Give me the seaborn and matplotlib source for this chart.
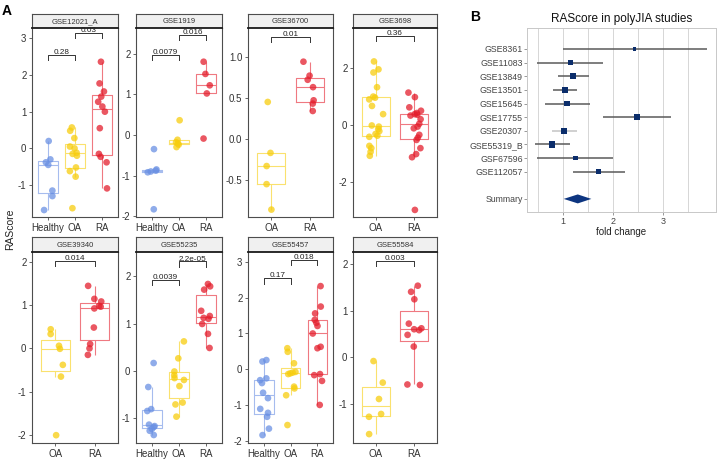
import numpy as np
import pandas as pd
import matplotlib
matplotlib.use("Agg")
import matplotlib.pyplot as plt
import seaborn as sns

# ---- panel A: RAScore per group, one array per study/group ----
gse12021_healthy = [0.2, -0.3, -0.38, -0.45, -1.15, -1.3, -1.68]
gse12021_oa = [0.57, 0.48, 0.28, 0.05, 0.0, -0.12, -0.15, -0.2, -0.52, -0.62, -0.77, -1.63]
gse12021_ra = [2.36, 1.77, 1.55, 1.41, 1.27, 1.14, 1.0, 0.55, -0.15, -0.23, -0.38, -1.09]

gse1919_healthy = [-0.35, -0.85, -0.88, -0.9, -0.92, -1.83]
gse1919_oa = [0.36, -0.12, -0.18, -0.21, -0.24, -0.3]
gse1919_ra = [1.8, 1.5, 1.22, 1.02, -0.09]

gse36700_oa = [0.45, -0.17, -0.33, -0.55, -0.86]
gse36700_ra = [0.94, 0.77, 0.72, 0.63, 0.47, 0.43, 0.34]

gse3698_oa = [2.24, 1.96, 1.85, 1.33, 1.0, 0.96, 0.9, 0.67, 0.38, -0.02,
              -0.06, -0.15, -0.22, -0.32, -0.38, -0.42, -0.74, -0.82, -0.95, -1.09]
gse3698_ra = [1.14, 0.98, 0.62, 0.5, 0.42, 0.38, 0.36, 0.33, 0.2, 0.04,
              -0.06, -0.12, -0.35, -0.45, -0.53, -0.82, -1.03, -1.14, -3.0]

gse39340_oa = [0.44, 0.33, 0.06, -0.01, -0.38, -0.65, -2.0]
gse39340_ra = [1.44, 1.14, 1.08, 0.98, 0.92, 0.48, 0.1, 0.0, -0.15, 0.96]

gse55235_healthy = [0.16, -0.35, -0.82, -0.86, -1.15, -1.18, -1.2, -1.24, -1.28, -1.37]
gse55235_oa = [0.62, 0.26, -0.02, -0.1, -0.16, -0.2, -0.33, -0.68, -0.72, -0.98]
gse55235_ra = [1.84, 1.79, 1.72, 1.27, 1.16, 1.12, 1.1, 0.99, 0.78, 0.48]

gse55457_healthy = [0.26, 0.22, -0.25, -0.3, -0.38, -0.65, -0.8, -1.1, -1.21, -1.32, -1.65, -1.83]
gse55457_oa = [0.59, 0.49, 0.17, -0.07, -0.09, -0.11, -0.13, -0.48, -0.53, -0.72, -1.55]
gse55457_ra = [2.32, 1.75, 1.56, 1.38, 1.3, 1.21, 1.0, 0.63, 0.59, -0.13, -0.16, -0.32, -0.99]

gse55584_oa = [-0.08, -0.54, -0.89, -1.21, -1.27, -1.64]
gse55584_ra = [1.53, 1.4, 1.24, 0.72, 0.62, 0.6, 0.58, 0.48, 0.23, -0.58, -0.59]

# p-value brackets: (group a, group b, height, label)
gse12021_p = [("Healthy", "OA", 2.55, "0.28"), ("OA", "RA", 3.14, "0.03")]
gse1919_p = [("Healthy", "OA", 1.97, "0.0079"), ("OA", "RA", 2.46, "0.016")]
gse36700_p = [("OA", "RA", 1.24, "0.01")]
gse3698_p = [("OA", "RA", 3.14, "0.36")]
gse39340_p = [("OA", "RA", 2.02, "0.014")]
gse55235_p = [("Healthy", "OA", 1.93, "0.0039"), ("OA", "RA", 2.32, "2.2e-05")]
gse55457_p = [("Healthy", "OA", 2.54, "0.17"), ("OA", "RA", 3.05, "0.018")]
gse55584_p = [("OA", "RA", 2.06, "0.003")]

# ---- panel B: forest plot ----
forest_studies = ["GSE8361", "GSE11083", "GSE13849", "GSE13501", "GSE15645",
                  "GSE17755", "GSE20307", "GSE55319_B", "GSF67596", "GSE112057"]
forest_est = [2.43, 1.15, 1.2, 1.05, 1.09, 2.48, 1.03, 0.79, 1.25, 1.71]
forest_low = [1.0, 0.49, 0.9, 0.8, 0.64, 1.8, 0.78, 0.44, 0.49, 1.2]
forest_high = [3.87, 1.8, 1.52, 1.29, 1.55, 3.15, 1.28, 1.14, 2.0, 2.24]
forest_weight = [2.0, 4.0, 5.5, 5.0, 5.0, 5.0, 5.0, 6.0, 4.0, 4.5]
summary_low, summary_est, summary_high = 1.02, 1.3, 1.57

plt.rcParams["font.family"] = ["Liberation Sans", "DejaVu Sans"]
plt.rcParams["axes.unicode_minus"] = False
np.random.seed(3)

W, H = 718, 459
fig = plt.figure(figsize=(W / 100, H / 100), dpi=100)

colors = {"Healthy": "#6a90e3", "OA": "#f7cd0e", "RA": "#e41f2d"}


def lighten(c, amt=0.4):
    rgb = np.array(matplotlib.colors.to_rgb(c))
    return tuple(rgb + (1 - rgb) * amt)


box_colors = {g: lighten(c) for g, c in colors.items()}
dark = "#4d4d4d"


def px_axes(x0, y0, x1, y1):
    return fig.add_axes([x0 / W, (H - y1) / H, (x1 - x0) / W, (y1 - y0) / H])


def draw_panel(xr, yr, sy, title, data, brackets, ylim, yticks, fmt="%g"):
    # strip first, so bracket labels of the panel can sit on top of it
    sax = px_axes(xr[0], sy, xr[1], yr[0])
    sax.set_facecolor("#f0f0f0")
    sax.set_xticks([])
    sax.set_yticks([])
    for s in sax.spines.values():
        s.set_color(dark)
        s.set_linewidth(0.8)
    sax.text(0.5, 0.45, title, ha="center", va="center", fontsize=5.5, color="#333333",
             transform=sax.transAxes)

    ax = px_axes(xr[0], yr[0], xr[1], yr[1])
    ax.set_zorder(2)
    groups = list(data.keys())
    df = pd.DataFrame({
        "group": np.repeat(groups, [len(v) for v in data.values()]),
        "score": np.concatenate(list(data.values())),
    })
    sns.boxplot(data=df, x="group", y="score", hue="group", order=groups,
                palette={g: box_colors[g] for g in groups}, fill=False,
                showfliers=False, showcaps=False, width=0.72, linewidth=0.8,
                legend=False, ax=ax)
    sns.stripplot(data=df, x="group", y="score", hue="group", order=groups,
                  palette={g: colors[g] for g in groups}, jitter=0.2, size=4.8,
                  alpha=0.75, linewidth=0, legend=False, ax=ax)
    tick = 0.028 * (ylim[1] - ylim[0])
    for a, b, y, label in brackets:
        xa, xb = groups.index(a), groups.index(b)
        ax.plot([xa, xa, xb, xb], [y - tick, y, y, y - tick], color="#333333", lw=0.7)
        ax.text((xa + xb) / 2, y + tick * 0.15, label, ha="center", va="baseline",
                fontsize=5.9, color="#222222")
    ax.set_xlim(-0.6, len(groups) - 0.4)
    ax.set_ylim(*ylim)
    ax.set_yticks(yticks)
    ax.set_yticklabels([fmt % t for t in yticks])
    ax.set_xlabel("")
    ax.set_ylabel("")
    ax.tick_params(labelsize=7, colors=dark, labelcolor="#333333", length=2.5, width=0.6, pad=1.5)
    for s in ax.spines.values():
        s.set_color(dark)
        s.set_linewidth(0.8)
    ax.spines["top"].set_color("#1a1a1a")
    ax.spines["top"].set_linewidth(1.3)
    return ax


cols = [(32, 118), (136, 222), (248, 333), (353, 437)]
top, bot = (28, 217), (252, 443)

draw_panel(cols[0], top, 14, "GSE12021_A",
           {"Healthy": gse12021_healthy, "OA": gse12021_oa, "RA": gse12021_ra},
           gse12021_p, (-1.87, 3.28), [-1, 0, 1, 2, 3])
draw_panel(cols[1], top, 14, "GSE1919",
           {"Healthy": gse1919_healthy, "OA": gse1919_oa, "RA": gse1919_ra},
           gse1919_p, (-2.02, 2.63), [-2, -1, 0, 1, 2])
draw_panel(cols[2], top, 14, "GSE36700",
           {"OA": gse36700_oa, "RA": gse36700_ra},
           gse36700_p, (-0.95, 1.35), [-0.5, 0.0, 0.5, 1.0], fmt="%.1f")
draw_panel(cols[3], top, 14, "GSE3698",
           {"OA": gse3698_oa, "RA": gse3698_ra},
           gse3698_p, (-3.25, 3.42), [-2, 0, 2])
draw_panel(cols[0], bot, 237, "GSE39340",
           {"OA": gse39340_oa, "RA": gse39340_ra},
           gse39340_p, (-2.18, 2.22), [-2, -1, 0, 1, 2])
draw_panel(cols[1], bot, 237, "GSE55235",
           {"Healthy": gse55235_healthy, "OA": gse55235_oa, "RA": gse55235_ra},
           gse55235_p, (-1.54, 2.52), [-1, 0, 1, 2])
draw_panel(cols[2], bot, 237, "GSE55457",
           {"Healthy": gse55457_healthy, "OA": gse55457_oa, "RA": gse55457_ra},
           gse55457_p, (-2.05, 3.27), [-2, -1, 0, 1, 2, 3])
draw_panel(cols[3], bot, 237, "GSE55584",
           {"OA": gse55584_oa, "RA": gse55584_ra},
           gse55584_p, (-1.83, 2.25), [-1, 0, 1, 2])

fig.text(10 / W, 0.5, "RAScore", rotation=90, ha="center", va="center", fontsize=7.5, color="#222222")
fig.text(2 / W, 1 - 11 / H, "A", ha="left", va="center", fontsize=10, fontweight="bold")
fig.text(470 / W, 1 - 17 / H, "B", ha="left", va="center", fontsize=10, fontweight="bold")

# ---- forest plot ----
fax = px_axes(527, 28, 716, 212)
pos = np.arange(1, len(forest_studies) + 1)
sum_pos = len(forest_studies) + 2
ci_colors = ["#5a5a5a"] * len(forest_studies)
ci_colors[forest_studies.index("GSE20307")] = "#c4c4c4"
fax.hlines(pos, forest_low, forest_high, colors=ci_colors, lw=1.1, zorder=2)
fdf = pd.DataFrame({"est": forest_est, "pos": pos, "weight": forest_weight})
sns.scatterplot(data=fdf, x="est", y="pos", size="weight", sizes=(5, 20),
                marker="s", color="#0b2d6b", linewidth=0, legend=False, ax=fax, zorder=3)
fax.fill([summary_low, summary_est, summary_high, summary_est],
         [sum_pos, sum_pos - 0.33, sum_pos, sum_pos + 0.33], color="#0d3580", lw=0, zorder=3)
fax.set_xlim(0.29, 4.05)
fax.set_ylim(sum_pos + 0.96, -0.54)
fax.set_yticks(list(pos) + [sum_pos])
fax.set_yticklabels(forest_studies + ["Summary"])
fax.set_xticks([1, 2, 3])
fax.set_xticks([0.5, 1.5, 2.5, 3.5], minor=True)
fax.grid(axis="x", which="both", color="#d6d6d6", lw=0.7)
fax.set_axisbelow(True)
fax.tick_params(axis="y", labelsize=6.3, colors="#888888", labelcolor="#444444", length=2, width=0.6, pad=1)
fax.tick_params(axis="x", which="major", labelsize=6.5, colors="#888888", labelcolor="#444444", length=2, width=0.6, pad=1.5)
fax.tick_params(axis="x", which="minor", length=0)
for s in fax.spines.values():
    s.set_color("#c8c8c8")
    s.set_linewidth(0.7)
fax.set_xlabel("fold change", fontsize=7, color="#222222", labelpad=1)
fax.set_ylabel("")
fax.set_title("RAScore in polyJIA studies", fontsize=8.5, color="#111111", pad=4)

fig.savefig("out.png", dpi=100)
